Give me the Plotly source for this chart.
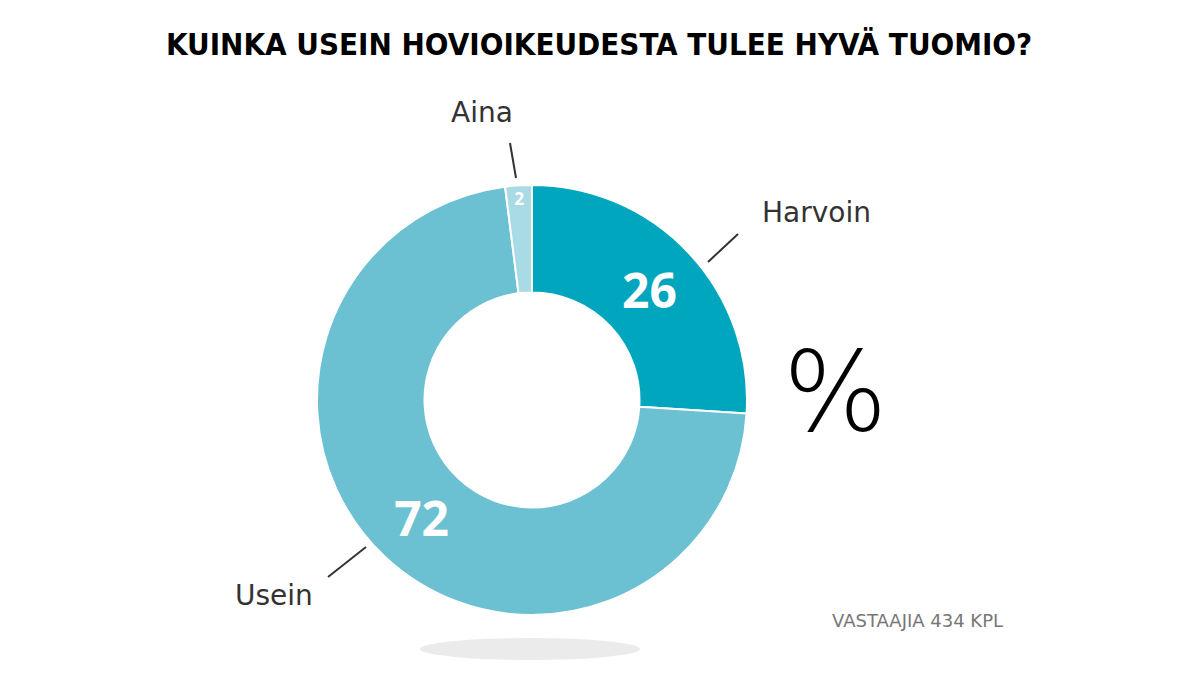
import plotly.graph_objects as go

labels = ["Harvoin", "Usein", "Aina"]
values = [26, 72, 2]
colors = ["#00a6bd", "#6bc0d2", "#a8dbe5"]

W, H = 1198, 674
O = 8  # page offset
def px(x): return (x - O) / W
def py(y): return 1 - (y - O) / H

fig = go.Figure(go.Pie(
    labels=labels, values=values, sort=False, direction="clockwise", rotation=0,
    hole=0.5, marker=dict(colors=colors, line=dict(color="white", width=2)),
    texttemplate="<b>%{value}</b>", textposition="inside",
    insidetextorientation="horizontal",
    textfont=dict(color="white", size=48, family="Open Sans"),
    domain=dict(x=[px(317), px(747)], y=[py(615), py(185)]), showlegend=False, hoverinfo="skip"))

fig.add_shape(type="circle", xref="paper", yref="paper",
              x0=px(420), x1=px(640), y0=py(660), y1=py(638),
              fillcolor="rgba(0,0,0,0.08)", line=dict(width=0), layer="below")

def lab(text, x, y, a, b, anchor):
    fig.add_annotation(text=text, x=px(x), y=py(y), xref="paper", yref="paper", showarrow=False,
                       xanchor=anchor, yanchor="middle", font=dict(size=28, color="#333", family="DejaVu Sans"))
    fig.add_shape(type="line", xref="paper", yref="paper", x0=px(a[0]), y0=py(a[1]),
                  x1=px(b[0]), y1=py(b[1]), line=dict(color="#333", width=2))

lab("Aina", 482, 112, (510, 143), (516, 178), "center")
lab("Harvoin", 760, 212, (738, 234), (708, 262), "left")
lab("Usein", 315, 595, (328, 577), (366, 547), "right")

fig.add_annotation(text="<b>KUINKA USEIN HOVIOIKEUDESTA TULEE HYVÄ TUOMIO?</b>", x=px(599), y=py(44),
                   xref="paper", yref="paper", showarrow=False, yanchor="middle",
                   font=dict(size=31, color="black", family="DejaVu Sans Condensed, DejaVu Sans"))
fig.add_annotation(text="%", x=px(890), y=py(392), xref="paper", yref="paper", showarrow=False,
                   yanchor="middle",
                   font=dict(size=110, color="black", family="DejaVu Sans", weight=200))
fig.add_annotation(text="VASTAAJIA 434 KPL", x=px(1005), y=py(620), xref="paper", yref="paper",
                   showarrow=False, yanchor="middle", font=dict(size=18, color="#777", family="DejaVu Sans"))
fig.update_layout(width=W, height=H, margin=dict(l=0, r=0, t=0, b=0),
                  paper_bgcolor="white", plot_bgcolor="white")
fig.write_html("out.html")
